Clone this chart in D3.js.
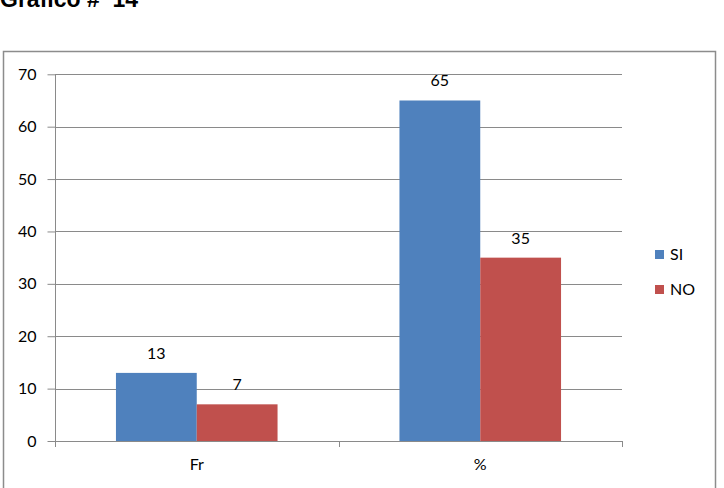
<!DOCTYPE html>
<html>
<head>
<meta charset="utf-8">
<script src="https://cdn.jsdelivr.net/npm/d3@7"></script>
<style>
html,body{margin:0;padding:0;background:#fff;}
svg{display:block;}
</style>
</head>
<body>
<svg id="chart" width="724" height="488"></svg>
<script>
const categories = ["Fr", "%"];
const seriesNames = ["SI", "NO"];
const siValues = [13, 65];
const noValues = [7, 35];
const yTicks = [0, 10, 20, 30, 40, 50, 60, 70];
const colors = ["#4F81BD", "#C0504D"];

(function () {
const svg = d3.select("#chart");
const font = "Lato, 'Open Sans', sans-serif";
const fs = 16;

// Title (cropped at top, as in the reference)
svg.append("text").attr("x", 0).attr("y", 7)
  .attr("font-family", "Arial, 'Liberation Sans', sans-serif")
  .attr("font-weight", "bold").attr("font-size", 23)
  .attr("xml:space", "preserve").style("white-space", "pre")
  .attr("fill", "#000").text("Grafico #  14");

// Outer border
svg.append("rect").attr("x", 3.5).attr("y", 51.5).attr("width", 712).attr("height", 460)
  .attr("fill", "none").attr("stroke", "#8c8c8c").attr("stroke-width", 1.5);

const pLeft = 55, pRight = 622, pTop = 74.3, pBottom = 441;
const y = d3.scaleLinear().domain([0, 70]).range([pBottom, pTop]);
const x0 = d3.scaleBand().domain(categories).range([pLeft, pRight]).padding(0);
const bw = x0.bandwidth();
const x1 = d3.scaleBand().domain(seriesNames).range([bw * 0.215, bw * 0.785]).padding(0);

// gridlines
svg.append("g").selectAll("line").data(yTicks.filter(d => d > 0)).join("line")
  .attr("x1", pLeft).attr("x2", pRight)
  .attr("y1", d => Math.round(y(d)) + 0.5).attr("y2", d => Math.round(y(d)) + 0.5)
  .attr("stroke", "#8a8a8a").attr("stroke-width", 1);

// bars
const data = categories.map((c, i) => ({ cat: c, vals: [
  { s: seriesNames[0], v: siValues[i], c: colors[0] },
  { s: seriesNames[1], v: noValues[i], c: colors[1] }
]}));

const groups = svg.append("g").selectAll("g").data(data).join("g")
  .attr("transform", d => `translate(${x0(d.cat)},0)`);
groups.selectAll("rect").data(d => d.vals).join("rect")
  .attr("x", d => x1(d.s)).attr("width", x1.bandwidth())
  .attr("y", d => y(d.v)).attr("height", d => y(0) - y(d.v))
  .attr("fill", d => d.c);
groups.selectAll("text").data(d => d.vals).join("text")
  .attr("x", d => x1(d.s) + x1.bandwidth() / 2)
  .attr("y", d => y(d.v) - 14)
  .attr("text-anchor", "middle")
  .attr("font-family", font).attr("font-size", fs).attr("fill", "#000")
  .text(d => d.v);

// y axis
const yAxis = d3.axisLeft(y).tickValues(yTicks).tickSize(8).tickPadding(11).tickFormat(d3.format("d"));
const gy = svg.append("g").attr("transform", `translate(${pLeft + 0.5},0)`).call(yAxis);
gy.select(".domain").attr("d", `M0,${pTop}V${pBottom + 6}`).attr("stroke", "#8a8a8a");
gy.selectAll(".tick line").attr("stroke", "#8a8a8a");
gy.selectAll(".tick text").attr("font-family", font).attr("font-size", fs).attr("fill", "#000");

// x axis
const xAxis = d3.axisBottom(x0).tickSize(0).tickPadding(17);
const gx = svg.append("g").attr("transform", `translate(0,${pBottom + 0.5})`).call(xAxis);
gx.select(".domain").attr("stroke", "#8a8a8a").attr("d", `M${pLeft},0H${pRight}`);
gx.selectAll(".tick text").attr("font-family", font).attr("font-size", fs).attr("fill", "#000");
// category separators
svg.append("g").selectAll("line").data(d3.range(categories.length + 1)).join("line")
  .attr("x1", i => Math.round(pLeft + i * bw) + 0.5).attr("x2", i => Math.round(pLeft + i * bw) + 0.5)
  .attr("y1", pBottom).attr("y2", pBottom + 6)
  .attr("stroke", "#8a8a8a");

// legend
const lg = svg.append("g").selectAll("g").data(seriesNames).join("g")
  .attr("transform", (d, i) => `translate(655,${250 + i * 35})`);
lg.append("rect").attr("width", 9).attr("height", 9).attr("fill", (d, i) => colors[i]);
lg.append("text").attr("x", 15).attr("y", 4.5).attr("dy", "0.35em")
  .attr("font-family", font).attr("font-size", fs).attr("fill", "#000").text(d => d);
})();
</script>
</body>
</html>
